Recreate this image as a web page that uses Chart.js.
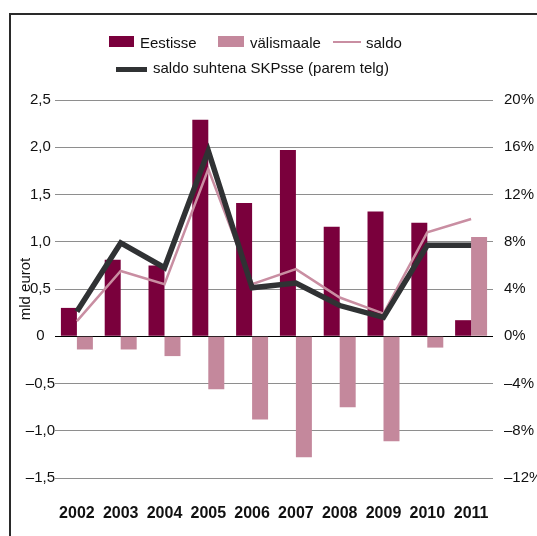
<!DOCTYPE html>
<html>
<head>
<meta charset="utf-8">
<script src="https://cdn.jsdelivr.net/npm/chart.js@4/dist/chart.umd.min.js"></script>
<style>
  html, body { margin: 0; padding: 0; background: #fff; }
  #wrap { position: relative; width: 537px; height: 536px; }
  #c { position: absolute; left: 0; top: 0; }
  .lg { position: absolute; font-family: "Liberation Sans", Arial, sans-serif; font-size: 15px; line-height: 18px; color: #111; white-space: nowrap; }
  .sw { position: absolute; }
</style>
</head>
<body>
<div id="wrap">
  <canvas id="c" width="537" height="536"></canvas>
  <div class="sw" style="left:109px;top:36px;width:25px;height:11px;background:#7a003c"></div>
  <div class="lg" style="left:140px;top:34px">Eestisse</div>
  <div class="sw" style="left:218px;top:36px;width:26px;height:11px;background:#c4889c"></div>
  <div class="lg" style="left:250px;top:34px">välismaale</div>
  <div class="sw" style="left:333px;top:41px;width:28px;height:2px;background:#c98ea2"></div>
  <div class="lg" style="left:366px;top:34px">saldo</div>
  <div class="sw" style="left:116px;top:67px;width:31px;height:5px;background:#303234"></div>
  <div class="lg" style="left:153px;top:59px">saldo suhtena SKPsse (parem telg)</div>
</div>
<script>
const years = ['2002','2003','2004','2005','2006','2007','2008','2009','2010','2011'];
const eestisse = [0.30, 0.81, 0.75, 2.29, 1.41, 1.97, 1.16, 1.32, 1.20, 0.17];
const valismaale = [-0.14, -0.14, -0.21, -0.56, -0.88, -1.28, -0.75, -1.11, -0.12, 1.05];
const saldo = [0.16, 0.69, 0.55, 1.77, 0.55, 0.71, 0.41, 0.24, 1.10, 1.24];
const saldoSKP = [2.1, 7.9, 5.8, 15.7, 4.1, 4.5, 2.6, 1.6, 7.7, 7.7];
const leftTickLabels = ['–1,5', '–1,0', '–0,5', '0', '0,5', '1,0', '1,5', '2,0', '2,5'];
const rightTickLabels = ['–12%', '–8%', '–4%', '0%', '4%', '8%', '12%', '16%', '20%'];

const FONT = '"Liberation Sans", Arial, sans-serif';

const framePlugin = {
  id: 'frame',
  afterDraw(chart) {
    const ctx = chart.ctx;
    ctx.save();
    ctx.strokeStyle = '#2a2a2a';
    ctx.lineWidth = 2;
    ctx.beginPath();
    ctx.moveTo(10, 536);
    ctx.lineTo(10, 14);
    ctx.lineTo(537, 14);
    ctx.stroke();
    ctx.restore();
  }
};

new Chart(document.getElementById('c'), {
  type: 'bar',
  data: {
    labels: years,
    datasets: [
      { type: 'line', label: 'saldo suhtena SKPsse (parem telg)', data: saldoSKP, yAxisID: 'y1',
        borderColor: '#303234', borderWidth: 5.5, pointRadius: 0, tension: 0,
        borderJoinStyle: 'miter', borderCapStyle: 'butt', order: 0 },
      { type: 'line', label: 'saldo', data: saldo, yAxisID: 'y',
        borderColor: '#c98ea2', borderWidth: 2.5, pointRadius: 0, tension: 0,
        borderJoinStyle: 'miter', order: 1 },
      { label: 'Eestisse', data: eestisse, yAxisID: 'y', backgroundColor: '#7a003c',
        categoryPercentage: 0.73, barPercentage: 1, order: 2 },
      { label: 'välismaale', data: valismaale, yAxisID: 'y', backgroundColor: '#c4889c',
        categoryPercentage: 0.73, barPercentage: 1, order: 2 }
    ]
  },
  options: {
    responsive: false,
    animation: false,
    devicePixelRatio: 1,
    layout: { padding: { top: 100, left: 0, right: 0, bottom: 0 } },
    plugins: { legend: { display: false }, tooltip: { enabled: false } },
    scales: {
      x: {
        grid: { display: false },
        border: { display: false },
        ticks: { font: { family: FONT, size: 16, weight: 'bold' }, color: '#111', padding: 18, maxRotation: 0 },
        afterFit(s) { s.height = 58; }
      },
      y: {
        position: 'left',
        min: -1.5, max: 2.5,
        ticks: {
          stepSize: 0.5,
          font: { family: FONT, size: 15 }, color: '#111',
          crossAlign: 'center', padding: 0,
          callback: (v, i) => leftTickLabels[i]
        },
        grid: {
          drawTicks: false,
          color: (c) => (c.tick && c.tick.value === 0 ? '#000' : '#8e8e8e'),
          lineWidth: 1
        },
        border: { display: false },
        title: { display: true, text: 'mld eurot', font: { family: FONT, size: 15 }, color: '#111', padding: { top: 17, bottom: 0 } },
        afterFit(s) { s.width = 55; }
      },
      y1: {
        position: 'right',
        min: -12, max: 20,
        ticks: {
          stepSize: 4,
          font: { family: FONT, size: 15 }, color: '#111',
          padding: 3,
          callback: (v, i) => rightTickLabels[i]
        },
        grid: { display: false },
        border: { display: false },
        afterFit(s) { s.width = 44; }
      }
    }
  },
  plugins: [framePlugin]
});
</script>
</body>
</html>
